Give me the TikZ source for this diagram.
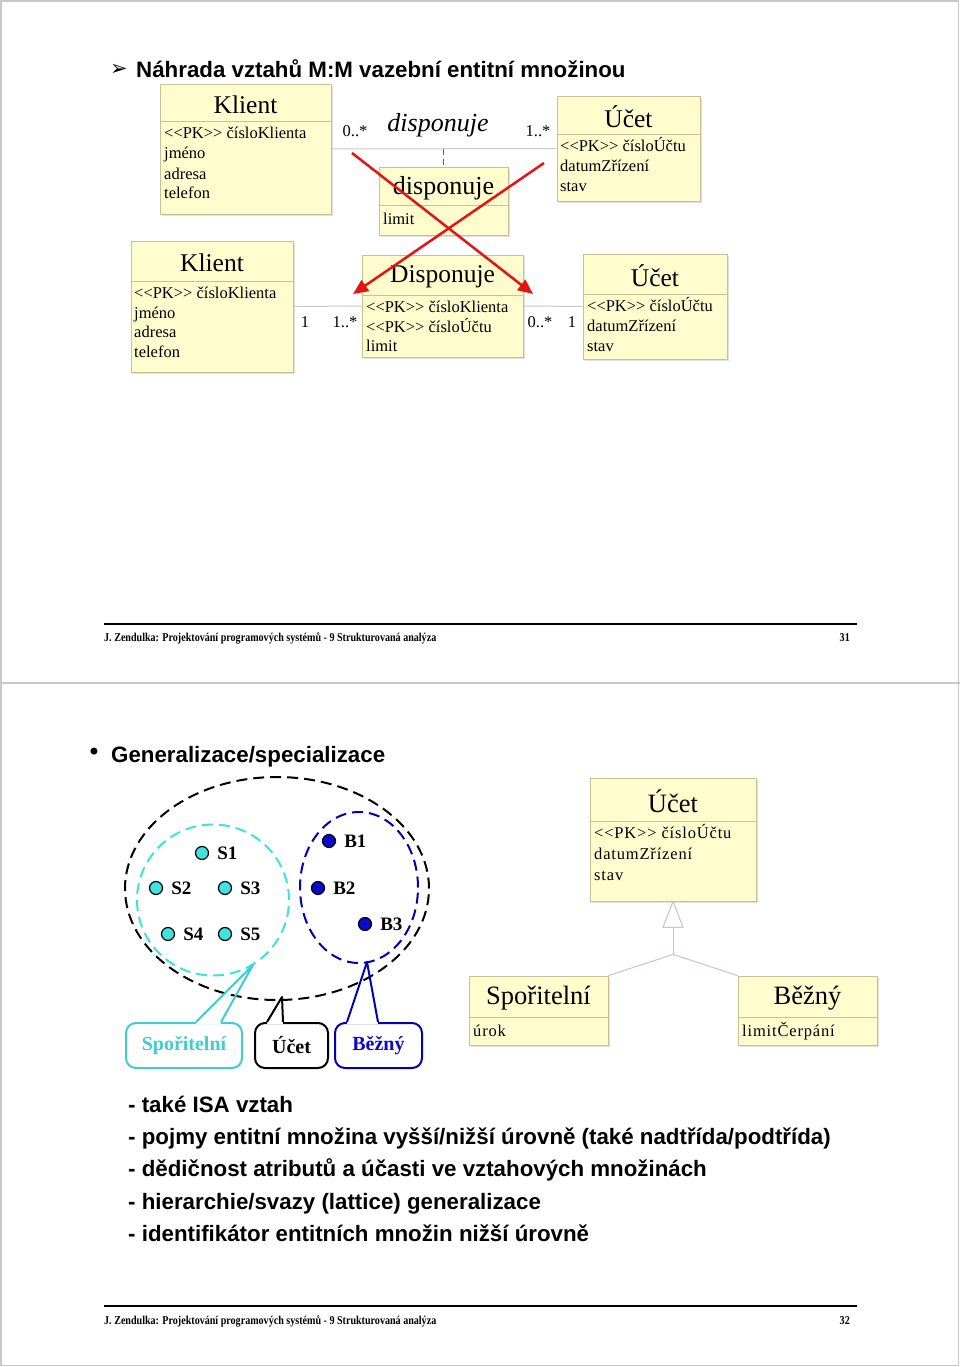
\documentclass[tikz,border=0pt]{standalone}
\usepackage{fontspec}
\usepackage{graphicx}
\setmainfont{Liberation Serif}
\newfontfamily\arialf{Liberation Sans}
\newfontfamily\dejavuf{DejaVu Sans}
\usetikzlibrary{arrows.meta,calc,shadows}

\definecolor{clsfill}{RGB}{255,253,206}
\definecolor{clsdraw}{RGB}{205,190,150}
\definecolor{assocgray}{RGB}{200,200,200}
\definecolor{gengray}{RGB}{210,190,195}
\definecolor{redx}{RGB}{228,20,20}
\definecolor{cyanc}{RGB}{64,225,225}
\definecolor{cyantext}{RGB}{64,205,205}
\definecolor{bluec}{RGB}{10,10,200}
\definecolor{blueline}{RGB}{0,0,180}
\definecolor{framegray}{RGB}{200,200,200}
\definecolor{dashbrown}{RGB}{170,70,50}

\newcommand\pk{<{}<PK>{}>}

\tikzset{
  clsbox/.style={draw=clsdraw, fill=clsfill, line width=0.8, inner sep=0,
    drop shadow={shadow xshift=2pt, shadow yshift=-2pt, fill=black, opacity=0.12}},
  attr/.style={anchor=west, inner sep=0, text height=14, text depth=2, font=\fontsize{16.5}{18}\selectfont},
  attrw/.style={attr, font=\fontsize{16.5}{18}\selectfont\addfontfeature{LetterSpace=5}},
  mult/.style={inner sep=0, font=\fontsize{16.5}{18}\selectfont},
  assoc/.style={draw=assocgray, line width=1},
  redline/.style={draw=redx, line width=2.5, -{Triangle[length=15pt,width=13pt]}},
  bigtext/.style={anchor=base west, inner sep=0, font=\arialf\bfseries\fontsize{22.3}{26}\selectfont},
  foot/.style={inner sep=0, font=\bfseries\fontsize{12}{12}\selectfont},
  dotc/.style={circle, draw=black, line width=1.2, fill=cyanc, minimum size=13, inner sep=0},
  dotb/.style={circle, draw=black, line width=1.2, fill=bluec, minimum size=13, inner sep=0},
  lbl/.style={anchor=west, inner sep=0, font=\bfseries\fontsize{19}{19}\selectfont},
  callbox/.style={rounded corners=10, line width=2, fill=white, minimum height=45, inner sep=0,
    font=\bfseries\fontsize{20}{20}\selectfont},
  genline/.style={draw=gengray, line width=1}
}

\newcommand\umlcls[8]{%
  \node[clsbox, minimum width={#4-#2}, minimum height={#5-#3}] (#1) at ({(#2+#4)/2},{(#3+#5)/2}) {};
  \draw[clsdraw, line width=0.8] (#2,#6) -- (#4,#6);
  \node[inner sep=0, font=\fontsize{#7}{#7}\selectfont] (#1-t) at ({(#2+#4)/2},{(#3+#6)/2+2}) {#8};
}

\begin{document}
\begin{tikzpicture}[x=1pt,y=-1pt]
\useasboundingbox (0,0) rectangle (960,1367);
\fill[white] (0,0) rectangle (960,1367);
\draw[framegray, line width=1.5] (1,1) rectangle (958.5,1365.5);
\draw[framegray, line width=1.5] (0,683) -- (960,683);

% ---------------- slide 31 ----------------
\node[inner sep=0, font=\dejavuf\fontsize{21}{21}\selectfont] (bul1) at (119,70) {➢};
\node[bigtext] (title1) at (136,78) {Náhrada vztahů M:M vazební entitní množinou};

\umlcls{k1}{160}{84}{331}{214}{121}{25.5}{Klient}
\node[attr] (k1a) at (164,133) {\pk{} čísloKlienta};
\node[attr] (k1b) at (164,153) {jméno};
\node[attr] (k1c) at (164,173) {adresa};
\node[attr] (k1d) at (164,192) {telefon};

\umlcls{u1}{557}{96}{700}{201}{134}{25.5}{Účet}
\node[attr] (u1a) at (560,146) {\pk{} čísloÚčtu};
\node[attr] (u1b) at (560,166) {datumZřízení};
\node[attr] (u1c) at (560,186) {stav};

\umlcls{d1}{379}{167}{508}{235}{205}{26}{disponuje}
\node[attr] (d1a) at (383,218) {limit};

\draw[assoc] (k1.east) -- (u1.west);
\coordinate (amid) at (443.5,149);
\draw[dashbrown, line width=1.5, dash pattern=on 6pt off 4pt] (amid) -- (d1.north);
\node[mult] (m1) at (355,131) {0..*};
\node[mult] (m2) at (538,131) {1..*};
\node[inner sep=0, font=\itshape\fontsize{26}{26}\selectfont] (aname) at (438,125) {disponuje};

\umlcls{k2}{131}{241}{293}{372}{281}{25.5}{Klient}
\node[attr] (k2a) at (134,292) {\pk{} čísloKlienta};
\node[attr] (k2b) at (134,312) {jméno};
\node[attr] (k2c) at (134,331) {adresa};
\node[attr] (k2d) at (134,351) {telefon};

\umlcls{d2}{362}{255}{523}{357}{295}{25.5}{Disponuje}
\node[attr] (d2a) at (366,306) {\pk{} čísloKlienta};
\node[attr] (d2b) at (366,326) {\pk{} čísloÚčtu};
\node[attr] (d2c) at (366,345) {limit};

\umlcls{u2}{583}{254}{727}{359}{294}{25.5}{Účet}
\node[attr] (u2a) at (587,305) {\pk{} čísloÚčtu};
\node[attr] (u2b) at (587,325) {datumZřízení};
\node[attr] (u2c) at (587,345) {stav};

\draw[assoc] (k2.east) -- (d2.west);
\draw[assoc] (d2.east) -- (u2.west);
\node[mult] (m3) at (305,322) {1};
\node[mult] (m4) at (345,322) {1..*};
\node[mult] (m5) at (540,322) {0..*};
\node[mult] (m6) at (572,322) {1};

\coordinate (x1a) at (352,153);
\coordinate (x1b) at (533,294);
\coordinate (x2a) at (544,163);
\coordinate (x2b) at (353,294);
\draw[redline] (x1a) -- (x1b);
\draw[redline] (x2a) -- (x2b);

\draw[line width=2.5] (104,624) -- (857,624);
\node[foot, anchor=west] (f1) at (104,638) {\scalebox{0.84}[1]{J. Zendulka: Projektování programových systémů - 9 Strukturovaná analýza}};
\node[foot, anchor=east] (p1) at (850,638) {\scalebox{0.84}[1]{31}};

% ---------------- slide 32 ----------------
\node[inner sep=0, font=\arialf\bfseries\fontsize{24}{26}\selectfont] (bul2) at (94,754) {•};
\node[bigtext] (title2) at (111,762) {Generalizace/specializace};

\draw[black, line width=2, dash pattern=on 11pt off 6pt] (277,888.5) ellipse [x radius=152pt, y radius=111.5pt];
\draw[cyanc, line width=2, dash pattern=on 11pt off 6pt] (213,900) ellipse [x radius=76pt, y radius=75.5pt];
\draw[blueline, line width=2, dash pattern=on 11pt off 6pt] (359,887.5) ellipse [x radius=59pt, y radius=75.5pt];

\node[dotc] (s1) at (202,853) {};
\node[dotc] (s2) at (156,888) {};
\node[dotc] (s3) at (225,888) {};
\node[dotc] (s4) at (168,934) {};
\node[dotc] (s5) at (225,934) {};
\node[dotb] (b1) at (329,841) {};
\node[dotb] (b2) at (318,888) {};
\node[dotb] (b3) at (365,924) {};
\node[lbl] (s1l) at ($(s1.east)+(8,0)$) {S1};
\node[lbl] (s2l) at ($(s2.east)+(8,0)$) {S2};
\node[lbl] (s3l) at ($(s3.east)+(8,0)$) {S3};
\node[lbl] (s4l) at ($(s4.east)+(8,0)$) {S4};
\node[lbl] (s5l) at ($(s5.east)+(8,0)$) {S5};
\node[lbl] (b1l) at ($(b1.east)+(8,0)$) {B1};
\node[lbl] (b2l) at ($(b2.east)+(8,0)$) {B2};
\node[lbl] (b3l) at ($(b3.east)+(8,0)$) {B3};

% callouts
\node[callbox, draw=cyantext, text=cyantext, minimum width=116] (cs) at (184,1045.5) {Spořitelní};
\node[callbox, draw=black, text=black, minimum width=73] (cu) at (291.5,1045.5) {Účet};
\node[callbox, draw=blueline, text=bluec, minimum width=87] (cb) at (378.5,1045.5) {Běžný};
\coordinate (cstip) at (253,965);
\coordinate (cutip) at (282,997);
\coordinate (cbtip) at (367,962);
\fill[white] ($(cs.north west)+(71,-2)$) rectangle ($(cs.north west)+(96,2)$);
\draw[cyantext, line width=2, line join=round] ($(cs.north west)+(71,0)$) -- (cstip) -- ($(cs.north west)+(96,0)$);
\fill[white] ($(cu.north west)+(13,-2)$) rectangle ($(cu.north west)+(29,2)$);
\draw[black, line width=2, line join=round] ($(cu.north west)+(13,0)$) -- (cutip) -- ($(cu.north west)+(29,0)$);
\fill[white] ($(cb.north west)+(13,-2)$) rectangle ($(cb.north west)+(44,2)$);
\draw[blueline, line width=2, line join=round] ($(cb.north west)+(13,0)$) -- (cbtip) -- ($(cb.north west)+(44,0)$);

% UML generalization
\umlcls{u3}{590}{778}{756}{901}{821}{26.5}{Účet}
\node[attrw] (u3a) at (594,832) {\pk{} čísloÚčtu};
\node[attrw] (u3b) at (594,853) {datumZřízení};
\node[attrw] (u3c) at (594,874) {stav};

\umlcls{sp}{469}{976}{608}{1045}{1017}{26.5}{Spořitelní}
\node[attrw] (spa) at (473,1030) {úrok};
\umlcls{bz}{738}{976}{877}{1045}{1017}{26.5}{Běžný}
\node[attrw] (bza) at (742,1030) {limitČerpání};

\draw[genline, fill=white] (u3.south) -- ++(-10,26) -- ++(20,0) -- cycle;
\coordinate (gbase) at ($(u3.south)+(0,26)$);
\coordinate (gj) at ($(u3.south)+(0,53)$);
\draw[genline] (gbase) -- (gj);
\draw[genline] (gj) -- (sp.north east);
\draw[genline] (gj) -- (bz.north west);

% text lines
\node[bigtext] (t1) at (128,1112) {- také ISA vztah};
\node[bigtext] (t2) at (128,1144) {- pojmy entitní množina vyšší/nižší úrovně (také nadtřída/podtřída)};
\node[bigtext] (t3) at (128,1176) {- dědičnost atributů a účasti ve vztahových množinách};
\node[bigtext] (t4) at (128,1209) {- hierarchie/svazy (lattice) generalizace};
\node[bigtext] (t5) at (128,1241) {- identifikátor entitních množin nižší úrovně};

\draw[line width=2.5] (104,1306) -- (857,1306);
\node[foot, anchor=west] (f2) at (104,1321) {\scalebox{0.84}[1]{J. Zendulka: Projektování programových systémů - 9 Strukturovaná analýza}};
\node[foot, anchor=east] (p2) at (850,1321) {\scalebox{0.84}[1]{32}};
\end{tikzpicture}
\end{document}
